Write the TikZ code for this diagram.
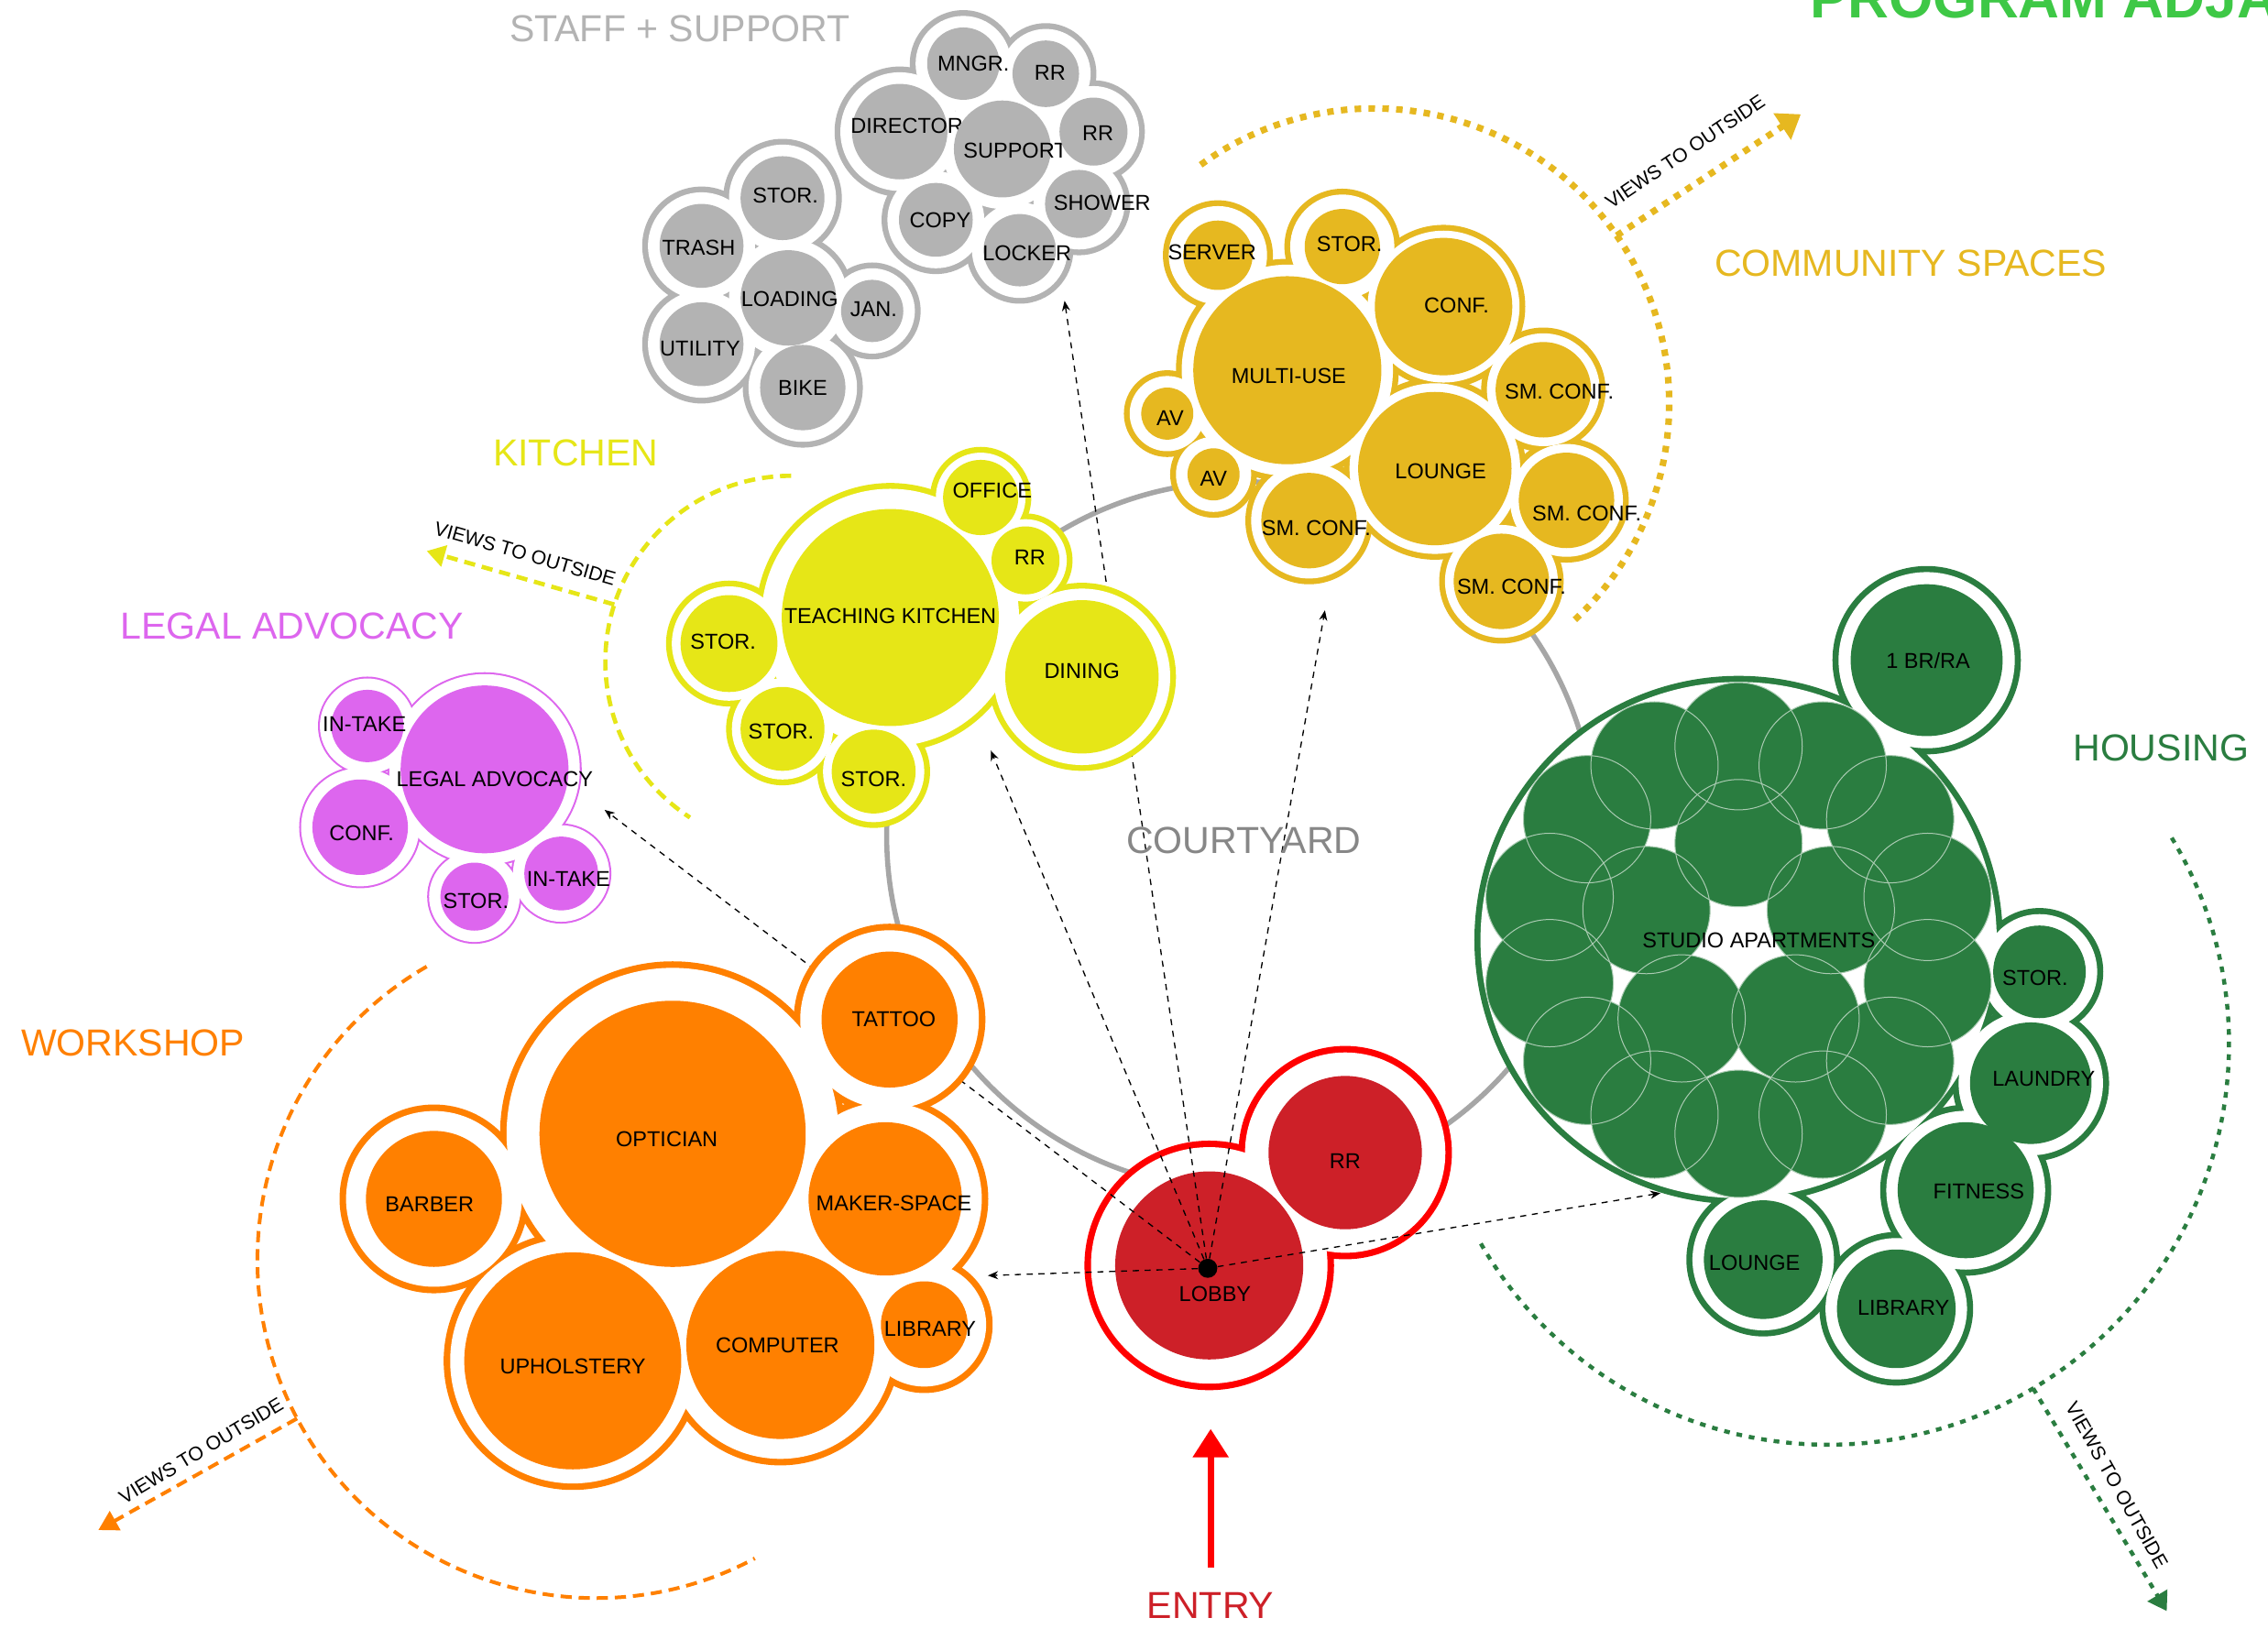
\documentclass[tikz,border=0pt]{standalone}
\usepackage{fontspec}
\setmainfont{Liberation Sans}
\usepackage{tikz}
\usetikzlibrary{arrows.meta, calc}
\usepackage{xcolor}
\definecolor{staff}{HTML}{B3B3B3}
\definecolor{community}{HTML}{E6B820}
\definecolor{kitchen}{HTML}{E6E617}
\definecolor{legal}{HTML}{DD66EE}
\definecolor{workshop}{HTML}{FF8000}
\definecolor{housing}{HTML}{2A7D40}
\definecolor{lobbyred}{HTML}{CD2028}
\definecolor{entryred}{HTML}{FF0000}
\definecolor{courtline}{HTML}{A6A6A6}
\definecolor{courttext}{HTML}{878787}
\definecolor{heading}{HTML}{3EC846}

\pgfdeclarelayer{back}
\pgfdeclarelayer{links}
\pgfdeclarelayer{rings}
\pgfsetlayers{back,links,rings,main}

\tikzset{
    room/.style={
        circle, inner sep=0pt, outer sep=0pt, minimum size=#1*0.05cm
    },
    every label/.style={
        font=\fontsize{10.6}{12}\selectfont, text=black, inner sep=0pt
    },
    zone/.style={
        font=\fontsize{18.5}{22}\selectfont, inner sep=0pt
    },
    views/.style={
        font=\fontsize{9.6}{11}\selectfont, inner sep=0pt
    },
    hub/.style={
        circle, fill=black, inner sep=0pt, minimum size=0.33cm
    },
    linkline/.style={
        -{Stealth[length=5pt, width=4pt]}, line width=0.6pt, dash pattern=on 3pt off 2.8pt
    },
    dotview/.style={
        line width=2.2pt, dash pattern=on 2.8pt off 3.4pt
    },
    dashview/.style={
        line width=2pt, dash pattern=on 5.5pt off 3.4pt
    },
    courtring/.style={
        draw=courtline, line width=2.5pt
    }
}

% ring round a group of rooms: colour, ring width, room/gap list (px)
\newcommand\ringaround[3]{%
    \foreach \nd/\gp in {#3}
        \fill[#1] let \p1=($(\nd.east)-(\nd.center)$) in
            (\nd) circle[radius={\x1+(\gp+#2/2)*0.025cm}];
    \foreach \nd/\gp in {#3}
        \fill[white] let \p1=($(\nd.east)-(\nd.center)$) in
            (\nd) circle[radius={\x1+(\gp-#2/2)*0.025cm}];
}

\begin{document}
\begin{tikzpicture}[x=0.025cm, y=-0.025cm]

    \useasboundingbox (0,0) rectangle (1568,1126);
    \begin{pgfonlayer}{back}
        \fill[white] (0,0) rectangle (1568,1126);
        \draw[courtring] (858,578) circle[radius=245];
    \end{pgfonlayer}

    \node[anchor=base west, inner sep=0pt, text=heading, font=\bfseries\fontsize{28}{32}\selectfont] (title) at (1251,12.3) {PROGRAM ADJA};

    \node[zone, text=staff]      (staffzone)     at (470,20)    {STAFF + SUPPORT};
    \node[zone, text=community]  (communityzone) at (1321,182)  {COMMUNITY SPACES};
    \node[zone, text=kitchen]    (kitchenzone)   at (398,313)   {KITCHEN};
    \node[zone, text=legal]      (legalzone)     at (202,433)   {LEGAL ADVOCACY};
    \node[zone, text=workshop]   (workshopzone)  at (92,721)    {WORKSHOP};
    \node[zone, text=courttext]  (courtzone)     at (860,581)   {COURTYARD};
    \node[zone, text=housing]    (housingzone)   at (1494,517)  {HOUSING};
    \node[zone, text=lobbyred]   (entryzone)     at (837,1110)  {ENTRY};

    \node[room=25,   fill=staff, label={[shift={(7,0)}]center:MNGR.}]      (mngr)     at (666,44)  {};
    \node[room=23,   fill=staff, label={[shift={(3,-1)}]center:RR}]        (rrtop)    at (723,51)  {};
    \node[room=33,   fill=staff, label={[shift={(5,-4)}]center:DIRECTOR}]  (director) at (622,91)  {};
    \node[room=33.5, fill=staff, label={[shift={(9,1)}]center:SUPPORT}]    (support)  at (693,103) {};
    \node[room=23.5, fill=staff, label={[shift={(3,1)}]center:RR}]         (rrside)   at (756,91)  {};
    \node[room=23.5, fill=staff, label={[shift={(16,-1)}]center:SHOWER}]   (shower)   at (746,141) {};
    \node[room=25.5, fill=staff, label={[shift={(3,0)}]center:COPY}]       (copy)     at (647,152) {};
    \node[room=25,   fill=staff, label={[shift={(5,2)}]center:LOCKER}]     (locker)   at (705,173) {};

    \node[room=29,   fill=staff, label={[shift={(2,-2)}]center:STOR.}]     (storstaff) at (541,137) {};
    \node[room=29,   fill=staff, label={[shift={(-2,1)}]center:TRASH}]     (trash)     at (485,170) {};
    \node[room=33,   fill=staff, label={[shift={(1,1)}]center:LOADING}]    (loading)   at (545,206) {};
    \node[room=21.5, fill=staff, label={[shift={(1,-1)}]center:JAN.}]      (jan)       at (603,215) {};
    \node[room=29,   fill=staff, label={[shift={(-1,3)}]center:UTILITY}]   (utility)   at (485,238) {};
    \node[room=29.5, fill=staff, label=center:BIKE]                        (bike)      at (555,268) {};

    \node[room=24,   fill=community, label={[shift={(-4,-2)}]center:SERVER}]    (server)   at (842,176.5)  {};
    \node[room=26,   fill=community, label={[shift={(5,-2)}]center:STOR.}]      (storcomm) at (928,170.5)  {};
    \node[room=47.5, fill=community, label={[shift={(9,-1)}]center:CONF.}]      (conf)     at (998,212)    {};
    \node[room=65,   fill=community, label={[shift={(1,4)}]center:MULTI-USE}]   (multiuse) at (890,256)    {};
    \node[room=18,   fill=community, label={[shift={(2,3)}]center:AV}]          (avtop)    at (807,286)    {};
    \node[room=18,   fill=community, label={[shift={(0,3)}]center:AV}]          (avlow)    at (839,328)    {};
    \node[room=33,   fill=community, label={[shift={(11,1)}]center:SM. CONF.}]  (smconfa)  at (1067,269.5) {};
    \node[room=53,   fill=community, label={[shift={(4,2)}]center:LOUNGE}]      (lounge)   at (992,324)    {};
    \node[room=33,   fill=community, label={[shift={(5,5)}]center:SM. CONF.}]   (smconfb)  at (905,360)    {};
    \node[room=33,   fill=community, label={[shift={(14,9)}]center:SM. CONF.}]  (smconfc)  at (1083,346)   {};
    \node[room=33,   fill=community, label={[shift={(7,4)}]center:SM. CONF.}]   (smconfd)  at (1038,402)   {};

    \node[room=26,   fill=kitchen, label={[shift={(8,-5)}]center:OFFICE}]            (office)    at (678,344)   {};
    \node[room=23.5, fill=kitchen, label={[shift={(3,-2)}]center:RR}]                (rrkitchen) at (709,387.5) {};
    \node[room=75,   fill=kitchen, label={[shift={(0,-1)}]center:TEACHING KITCHEN}]  (teaching)  at (615.5,427) {};
    \node[room=33.5, fill=kitchen, label={[shift={(-4,-1)}]center:STOR.}]            (storka)    at (504,445)   {};
    \node[room=29,   fill=kitchen, label={[shift={(-1,2)}]center:STOR.}]             (storkb)    at (541,504)   {};
    \node[room=29,   fill=kitchen, label={[shift={(0,5.5)}]center:STOR.}]            (storkc)    at (604,533.5) {};
    \node[room=53,   fill=kitchen, label={[shift={(0,-4)}]center:DINING}]            (dining)    at (748,468)   {};

    \node[room=25,   fill=legal, label={[shift={(-2,-1)}]center:IN-TAKE}]        (intakea)   at (254,502) {};
    \node[room=58,   fill=legal, label={[shift={(7,7)}]center:LEGAL ADVOCACY}]   (advocacy)  at (335,532) {};
    \node[room=33,   fill=legal, label={[shift={(1,4)}]center:CONF.}]            (conflegal) at (249,572) {};
    \node[room=23.5, fill=legal, label={[shift={(1,3)}]center:STOR.}]            (storlegal) at (328,620) {};
    \node[room=25.5, fill=legal, label={[shift={(5,4)}]center:IN-TAKE}]          (intakeb)   at (388,604) {};

    \node[room=47, fill=workshop, label={[shift={(3,0)}]center:TATTOO}]        (tattoo)     at (615,705)   {};
    \node[room=92, fill=workshop, label={[shift={(-4,4)}]center:OPTICIAN}]     (optician)   at (465,784)   {};
    \node[room=47, fill=workshop, label={[shift={(-3,4)}]center:BARBER}]       (barber)     at (300,829)   {};
    \node[room=53, fill=workshop, label={[shift={(6,3)}]center:MAKER-SPACE}]   (makerspace) at (612,829)   {};
    \node[room=75, fill=workshop, label={[shift={(0,4)}]center:UPHOLSTERY}]    (upholstery) at (396,941)   {};
    \node[room=65, fill=workshop, label={[shift={(-2,0)}]center:COMPUTER}]     (computer)   at (539.5,930) {};
    \node[room=30, fill=workshop, label={[shift={(4,3)}]center:LIBRARY}]       (libraryws)  at (639,916)   {};

    \node[room=170, label={[shift={(14,0)}]center:STUDIO APARTMENTS}]          (studio)         at (1202,650)    {};
    \node[room=52.5, fill=housing, label={[shift={(1,0.5)}]center:1 BR/RA}]    (onebr)          at (1332,456.5)  {};
    \node[room=32,   fill=housing, label={[shift={(-3,4)}]center:STOR.}]       (storhousing)    at (1410,672)    {};
    \node[room=42,   fill=housing, label={[shift={(9,-3)}]center:LAUNDRY}]     (laundry)        at (1404,749)    {};
    \node[room=47,   fill=housing, label={[shift={(9,1)}]center:FITNESS}]      (fitness)        at (1359,823)    {};
    \node[room=41,   fill=housing, label={[shift={(-6,2)}]center:LOUNGE}]      (loungehousing)  at (1219,871)    {};
    \node[room=41,   fill=housing, label={[shift={(5,-1)}]center:LIBRARY}]     (libraryhousing) at (1311,905)    {};

    \begin{pgfonlayer}{rings}
        \ringaround{staff}{4}{mngr/10, rrtop/10, director/10, support/10, rrside/10, shower/10, copy/10, locker/10}
        \ringaround{staff}{4}{storstaff/10, trash/10, loading/10, jan/10, utility/10, bike/10}
        \ringaround{community}{4}{server/12, storcomm/12, conf/7, multiuse/10, avtop/10, avlow/10, smconfa/8, lounge/8, smconfb/9, smconfc/8, smconfd/8}
        \ringaround{kitchen}{4}{office/7, rrkitchen/7, teaching/16, storka/8, storkb/8, storkc/8, dining/10}
        \ringaround{legal}{1.3}{intakea/8.5, advocacy/8.5, conflegal/8.5, storlegal/8.5, intakeb/8.5}
        \ringaround{workshop}{4.5}{tattoo/17, optician/25, barber/16, makerspace/16, upholstery/12, computer/16, libraryws/15}
        \ringaround{housing}{4.2}{studio/10.5, onebr/10.5, storhousing/10, laundry/10, fitness/10, loungehousing/10, libraryhousing/10}
        \foreach \a in {0,...,13}
            \fill[housing] (studio) ++(-90+\a*360/14:134) circle[radius=44];
        \foreach \a in {0,...,4}
            \fill[housing] (studio) ++(-90+\a*72:67) circle[radius=44];
        \foreach \a in {0,...,13}
            \draw[white!60!housing, line width=0.45pt] (studio) ++(-90+\a*360/14:134) circle[radius=44];
        \foreach \a in {0,...,4}
            \draw[white!60!housing, line width=0.45pt] (studio) ++(-90+\a*72:67) circle[radius=44];
    \end{pgfonlayer}

    \begin{pgfonlayer}{links}
        \node[room=65, fill=lobbyred, label={[shift={(4,20)}]center:LOBBY}]  (lobby)   at (836,875) {};
        \node[room=53, fill=lobbyred, label={[shift={(0,6)}]center:RR}]      (rrlobby) at (930,797) {};
        \node[hub] (hub) at (835,877) {};

        \coordinate (tostaff)     at (736,208);
        \coordinate (tocommunity) at (916,422);
        \coordinate (tokitchen)   at (685,519);
        \coordinate (tolegal)     at (418,560);
        \coordinate (toworkshop)  at (683,882);
        \coordinate (tohousing)   at (1148,825);

        \draw[linkline] (hub) -- (tostaff);
        \draw[linkline] (hub) -- (tocommunity);
        \draw[linkline] (hub) -- (tokitchen);
        \draw[linkline] (hub) -- (tolegal);
        \draw[linkline] (hub) -- (toworkshop);
        \draw[linkline] (hub) -- (tohousing);
    \end{pgfonlayer}
    \begin{pgfonlayer}{back}
        \ringaround{entryred}{4.5}{lobby/19, rrlobby/18.5}
    \end{pgfonlayer}

    \draw[entryred, line width=3.1pt, -{Triangle[length=14pt, width=17pt]}, shorten <=0.42cm, shorten >=1.2cm]
        (entryzone.north) -- (entryzone.north |- lobby.south);

    \coordinate (commcentre) at (950,279);
    \coordinate (kitcentre)  at (547,457.5);
    \coordinate (shopcentre) at (412,871);
    \coordinate (homecentre) at (1264,722);
    \coordinate (commview)   at (1245,79);
    \coordinate (kitview)    at (295,381);
    \coordinate (shopview)   at (68,1058);
    \coordinate (homeview)   at (1498,1114);

    \draw[dotview, line width=3.2pt, dash pattern=on 3.2pt off 3.6pt, community] (commcentre) ++(-126:204) arc[start angle=-126, end angle=48, radius=204];
    \draw[dotview, line width=3.2pt, dash pattern=on 3.2pt off 3.6pt, community, -{Triangle[length=11pt, width=15pt]}] ($(commcentre)+(-34.7:204)$) -- (commview);
    \node[views, rotate=34] (commviewtext) at (1165,105) {VIEWS TO OUTSIDE};

    \draw[dashview, line width=2.1pt, kitchen] (kitcentre) ++(-90:128.5) arc[start angle=-90, end angle=-237, radius=128.5];
    \draw[dashview, line width=2.1pt, kitchen, -{Triangle[length=9pt, width=10.5pt]}] ($(kitcentre)+(197.9:128.5)$) -- (kitview);
    \node[views, rotate=-16] (kitviewtext) at (363,383) {VIEWS TO OUTSIDE};

    \draw[dashview, line width=1.8pt, workshop] (shopcentre) ++(240:234) arc[start angle=240, end angle=62, radius=234];
    \draw[dashview, line width=1.8pt, workshop, -{Triangle[length=9.5pt, width=10.5pt]}] ($(shopcentre)+(152:234)$) -- (shopview);
    \node[views, rotate=31] (shopviewtext) at (139,1003) {VIEWS TO OUTSIDE};

    \draw[dotview, line width=2pt, housing] (homecentre) ++(-31:277) arc[start angle=-31, end angle=150.5, radius=277];
    \draw[dotview, line width=2pt, housing, -{Triangle[length=9pt, width=11pt]}] ($(homecentre)+(59.25:277)$) -- (homeview);
    \node[views, rotate=-60.5] (homeviewtext) at (1463.5,1027) {VIEWS TO OUTSIDE};

\end{tikzpicture}
\end{document}
